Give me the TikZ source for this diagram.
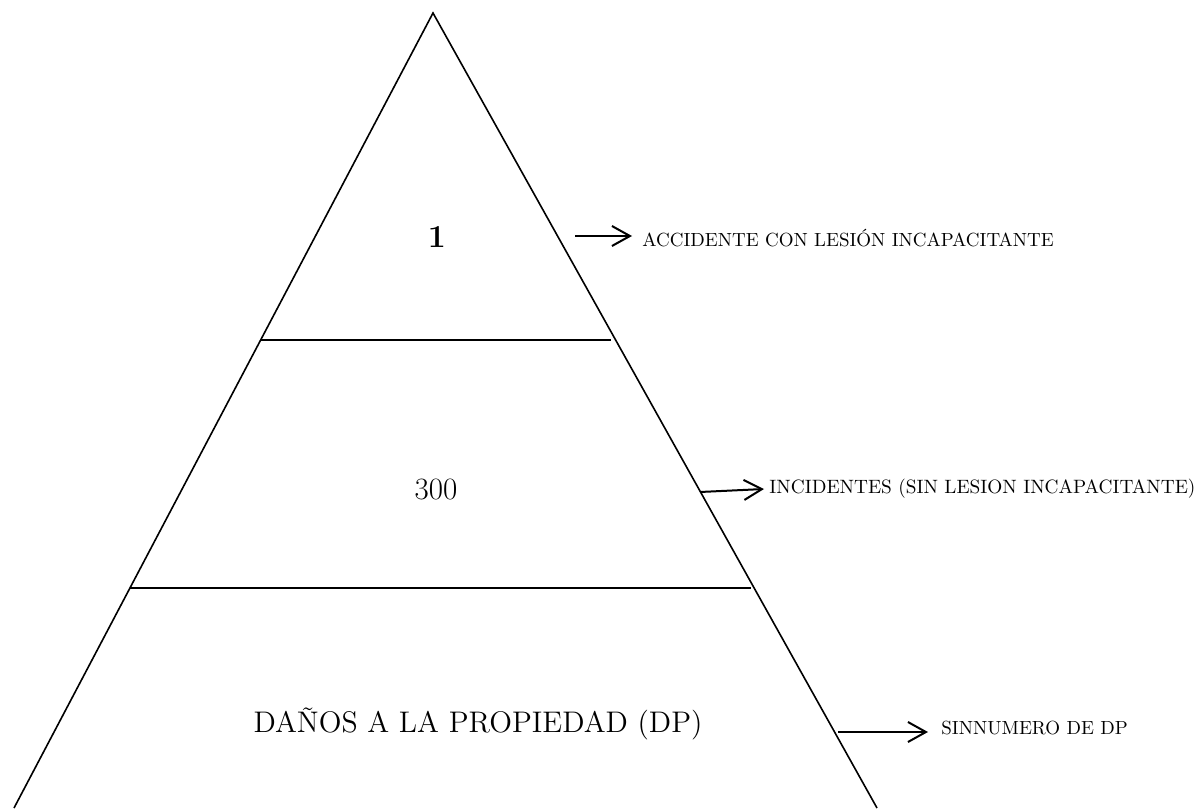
\documentclass[tikz,border=0pt]{standalone}
\usepackage{fontspec}
\usetikzlibrary{arrows.meta}
\begin{document}
\begin{tikzpicture}[x=0.5pt,y=-0.5pt,
  side/.style={line width=0.8pt},
  tier/.style={line width=1.1pt},
  pointer/.style={line width=1pt,-{Straight Barb[length=9pt,width=10pt]}},
  caption/.style={anchor=west,inner sep=0pt,font=\fontsize{9.5}{11}\selectfont},
  figure/.style={inner sep=0pt}
]
\useasboundingbox (0,0) rectangle (1198,808);
% pyramid outline
\coordinate (apex) at (433,13);
\coordinate (baseL) at (14,808);
\coordinate (baseR) at (877,808);
\draw[side] (baseL) -- (apex) -- (baseR);
% tier separators
\coordinate (upL) at (261,340);
\coordinate (upR) at (611,340);
\coordinate (loL) at (130,588);
\coordinate (loR) at (751,588);
\draw[tier] (upL) -- (upR);
\draw[tier] (loL) -- (loR);
% tier contents
\node[figure,font=\fontsize{16}{18}\selectfont\bfseries] (one) at (437,237) {1};
\node[figure,font=\fontsize{15.5}{18}\selectfont] (three) at (436,489) {300};
\node[figure,font=\fontsize{14.9}{17}\selectfont] (dp) at (478,724) {DAÑOS A LA PROPIEDAD (DP)};
% side captions
\node[caption] (accid) at (642,238) {ACCIDENTE CON LESIÓN INCAPACITANTE};
\node[caption,font=\fontsize{9.65}{11}\selectfont] (incid) at (769,489) {INCIDENTES (SIN LESION INCAPACITANTE)};
\node[caption] (sinn) at (941,728) {SINNUMERO DE DP};
% pointers
\coordinate (p1) at (575,236);
\coordinate (p2) at (700,492);
\coordinate (p3) at (838,732);
\draw[pointer] (p1) -- ([xshift=-5pt]p1 -| accid.west);
\draw[pointer] (p2) -- ([xshift=-2.5pt]incid.west);
\draw[pointer] (p3) -- ([xshift=-6.5pt]p3 -| sinn.west);
\end{tikzpicture}
\end{document}
